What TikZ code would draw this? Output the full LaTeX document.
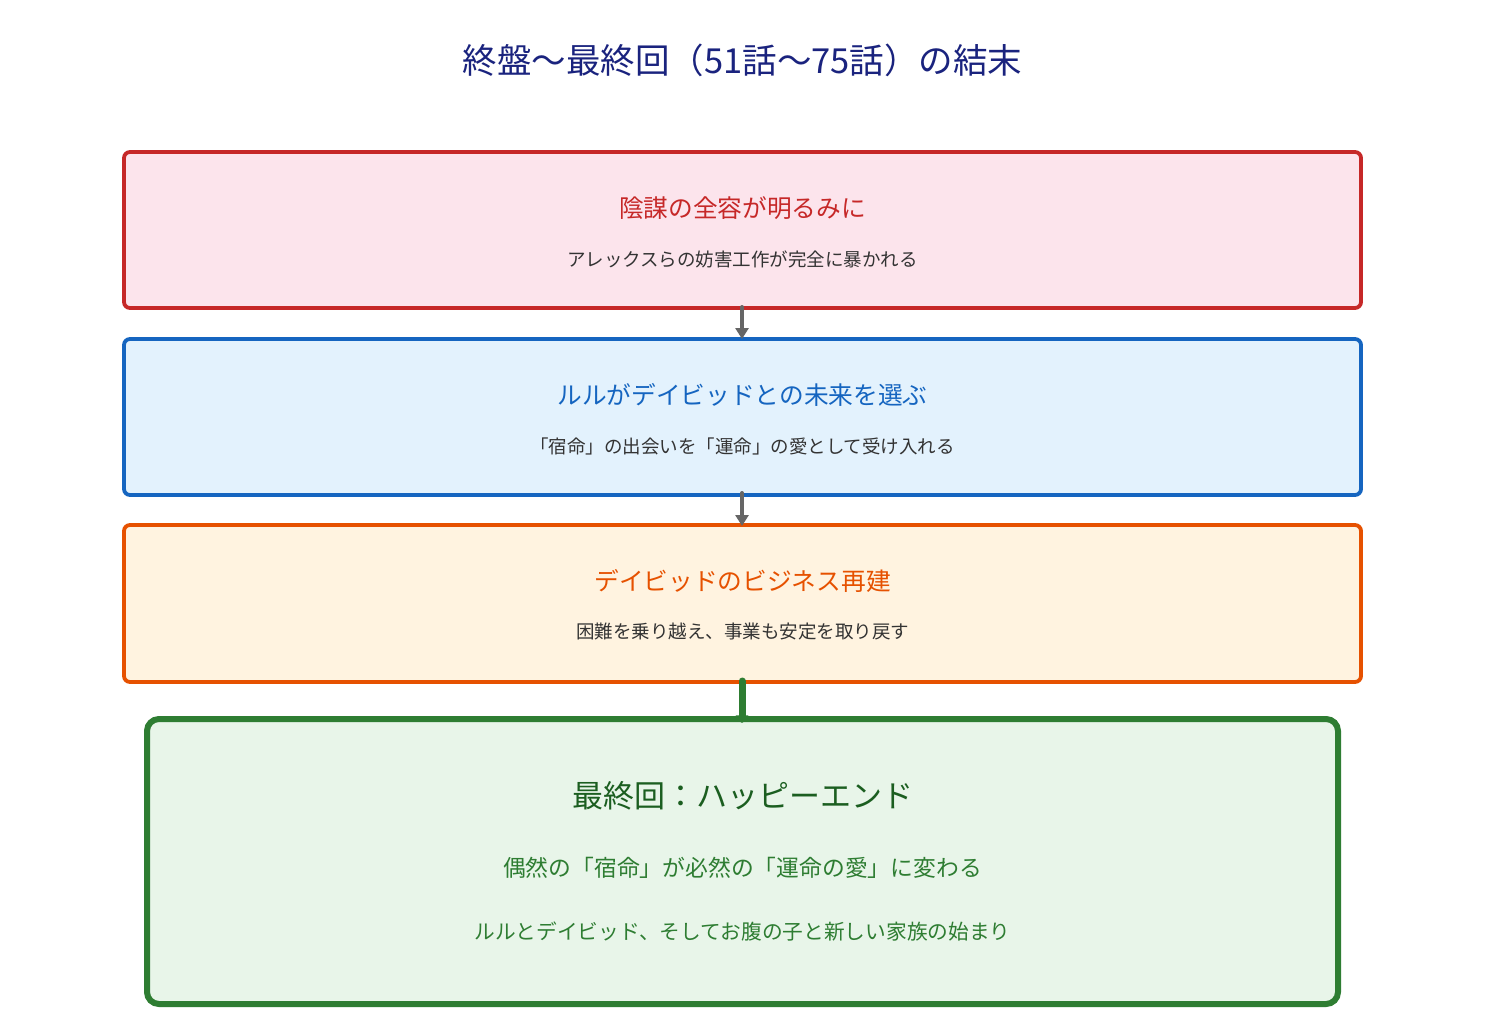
\documentclass[tikz,border=0pt]{standalone}
\usepackage{fontspec}
\setmainfont{Noto Sans CJK JP}
\usetikzlibrary{arrows.meta}
\definecolor{titlec}{HTML}{1A237E}
\definecolor{redc}{HTML}{C62828}
\definecolor{redf}{HTML}{FCE4EC}
\definecolor{bluec}{HTML}{1565C0}
\definecolor{bluef}{HTML}{E3F2FD}
\definecolor{orc}{HTML}{E65100}
\definecolor{orf}{HTML}{FFF3E0}
\definecolor{grc}{HTML}{2E7D32}
\definecolor{grf}{HTML}{E8F5E9}
\definecolor{grd}{HTML}{1B5E20}
\definecolor{txt}{HTML}{333333}
\definecolor{arr}{HTML}{666666}
\tikzset{
  box/.style={draw, line width=3.8pt, rounded corners=6pt},
  ttl/.style={font=\fontsize{24.7}{28}\selectfont, anchor=center, inner sep=0},
  sub/.style={font=\fontsize{18.5}{22}\selectfont, text=txt, anchor=center, inner sep=0},
  garrow/.style={draw=arr, line width=4pt, line cap=round, -{Triangle[length=11pt,width=13pt]}},
}
\begin{document}
\begin{tikzpicture}[x=1pt,y=-1pt]
\useasboundingbox[fill=white] (0,0) rectangle (1485,1035);
\node[font=\fontsize{34.5}{40}\selectfont, text=titlec, inner sep=0] (title) at (742.5,60) {終盤～最終回（51話～75話）の結末};

\draw[box, draw=redc, fill=redf] (124,152) rectangle (1361,308);
\coordinate (b1top) at (742,152); \coordinate (b1bot) at (742,307);
\node[ttl, text=redc] (t1) at (742.5,208) {陰謀の全容が明るみに};
\node[sub] (s1) at (742.5,259) {アレックスらの妨害工作が完全に暴かれる};

\draw[box, draw=bluec, fill=bluef] (124,339) rectangle (1361,495);
\coordinate (b2top) at (742,339); \coordinate (b2bot) at (742,493);
\node[ttl, text=bluec] (t2) at (742.5,395) {ルルがデイビッドとの未来を選ぶ};
\node[sub] (s2) at (742.5,446) {「宿命」の出会いを「運命」の愛として受け入れる};

\draw[box, draw=orc, fill=orf] (124,525) rectangle (1361,682);
\coordinate (b3top) at (742,526); \coordinate (b3bot) at (742,681);
\node[ttl, text=orc] (t3) at (742.5,581) {デイビッドのビジネス再建};
\node[sub] (s3) at (742.5,632) {困難を乗り越え、事業も安定を取り戻す};

\draw[draw=grc, fill=grf, line width=6pt, rounded corners=12pt] (147,719) rectangle (1338,1004);
\coordinate (b4top) at (742,723);
\node[font=\fontsize{31}{36}\selectfont, text=grd, inner sep=0] (t4) at (742.5,796) {最終回：ハッピーエンド};
\node[font=\fontsize{22.8}{26}\selectfont, text=grc, inner sep=0] (s4) at (742.5,868) {偶然の「宿命」が必然の「運命の愛」に変わる};
\node[font=\fontsize{20.7}{24}\selectfont, text=grc, inner sep=0] (u4) at (742.5,932) {ルルとデイビッド、そしてお腹の子と新しい家族の始まり};

\draw[garrow] (b1bot) -- (b2top);
\draw[garrow] (b2bot) -- (b3top);
\draw[draw=grc, line width=7pt, line cap=round, -{Triangle[length=8pt,width=16pt,round]}] (b3bot) -- (b4top);
\end{tikzpicture}
\end{document}
